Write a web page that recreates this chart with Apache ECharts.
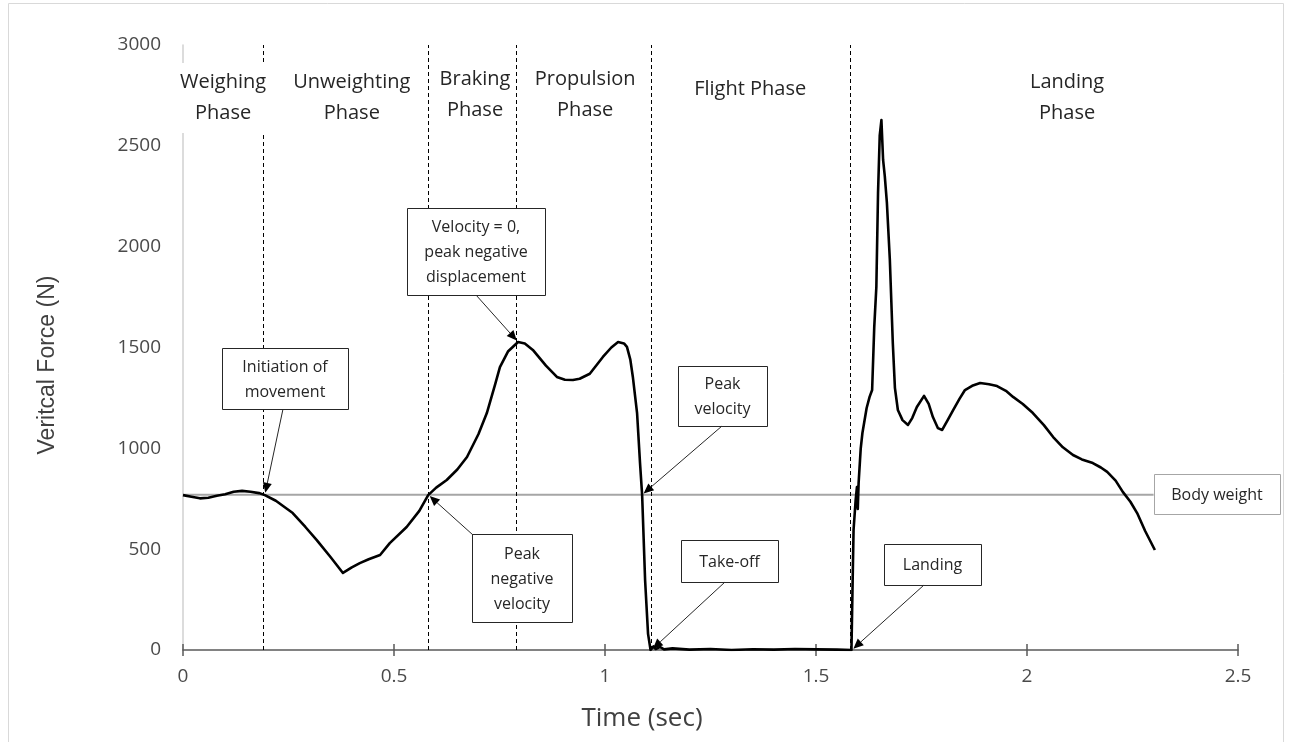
<!DOCTYPE html>
<html><head><meta charset="utf-8">
<script src="https://cdn.jsdelivr.net/npm/echarts@6/dist/echarts.min.js"></script>
<style>html,body{margin:0;padding:0;background:#fff}#c{width:1291px;height:742px}</style>
</head><body><div id="c"></div>
<script>
// ---- data ----
const time = [0,0.02,0.04,0.06,0.08,0.1,0.12,0.14,0.16,0.18,0.194,0.22,0.26,0.29,0.317,0.35,0.379,0.4,0.419,0.44,0.467,0.49,0.53,0.56,0.581,0.6,0.625,0.65,0.673,0.7,0.72,0.74,0.751,0.77,0.794,0.81,0.829,0.86,0.886,0.905,0.924,0.94,0.964,0.995,1.015,1.031,1.045,1.052,1.06,1.066,1.076,1.083,1.088,1.095,1.102,1.108,1.115,1.12,1.13,1.14,1.16,1.2,1.25,1.3,1.35,1.4,1.45,1.5,1.55,1.584,1.586,1.587,1.589,1.594,1.597,1.599,1.601,1.606,1.61,1.62,1.627,1.633,1.638,1.643,1.647,1.651,1.655,1.659,1.663,1.668,1.675,1.682,1.687,1.694,1.705,1.718,1.728,1.739,1.756,1.767,1.777,1.789,1.799,1.812,1.825,1.84,1.853,1.87,1.889,1.91,1.929,1.95,1.967,1.99,2.014,2.04,2.062,2.085,2.109,2.13,2.156,2.175,2.19,2.21,2.227,2.245,2.261,2.28,2.303];
const force = [768,760,752,755,765,772,785,789,785,778,768,740,679,610,545,460,382,410,431,450,471,530,610,690,768,805,843,895,957,1070,1175,1320,1403,1480,1527,1520,1488,1410,1354,1340,1339,1345,1370,1453,1500,1527,1520,1503,1440,1354,1175,927,768,347,80,0,18,5,15,3,8,2,5,0,4,2,5,3,2,0,0,362,595,744,808,700,830,1000,1076,1200,1255,1289,1600,1800,2266,2550,2628,2430,2350,2217,1934,1522,1300,1190,1140,1116,1150,1205,1260,1220,1155,1100,1091,1140,1190,1245,1289,1310,1324,1318,1309,1285,1255,1220,1175,1115,1056,1005,967,945,927,905,883,840,784,735,679,590,496];
const bodyWeight = 770;
const bodyWeightEnd = 2.3;
const phaseBoundaries = [0.194, 0.581, 0.794, 1.11, 1.585];
const phaseNames = ['Weighing\nPhase','Unweighting\nPhase','Braking\nPhase','Propulsion\nPhase','Flight Phase','Landing\nPhase'];
const phaseCenters = [0.095, 0.40, 0.692, 0.953, 1.344, 2.095];
const eventNames = ['Initiation of\nmovement','Velocity = 0,\npeak negative\ndisplacement','Peak\nnegative\nvelocity','Peak\nvelocity','Take-off','Landing'];
const eventTimes = [0.194, 0.794, 0.581, 1.088, 1.11, 1.585];
const eventForces = [770, 1527, 770, 770, 0, 0];
const xTicks = [0, 0.5, 1, 1.5, 2, 2.5];
const yTicks = [0, 500, 1000, 1500, 2000, 2500, 3000];

// ---- layout (pixels) ----
const phaseY = [98, 98, 95, 95, 89, 98];
const boxes = [
  {r:[222,348,126,61], from:[283,409]},
  {r:[407,208,138,87], from:[476,295]},
  {r:[472,534,100,88], from:[473,535]},
  {r:[678,366,89,60],  from:[722,426]},
  {r:[681,540,97,42],  from:[725,582]},
  {r:[884,544,97,41],  from:[924,585]}
];

const chart = echarts.init(document.getElementById('c'), null, {renderer:'canvas'});
const tickFont = {fontFamily:'Open Sans', fontSize:19, color:'#4a4a4a'};
chart.setOption({
  animation:false,
  grid:{left:183, right:53, top:45, bottom:92},
  xAxis:[{
    type:'value', min:xTicks[0], max:xTicks[xTicks.length-1], interval:0.5,
    axisLine:{show:true, lineStyle:{color:'#595959', width:1.5}},
    axisTick:{show:true, inside:false, length:6, lineStyle:{color:'#595959', width:1.5}},
    axisLabel:Object.assign({margin:17, formatter:v=>String(v)}, tickFont),
    splitLine:{show:false}
  },{
    type:'value', min:xTicks[0], max:xTicks[xTicks.length-1], interval:0.5, position:'bottom', offset:0,
    axisLine:{show:false},
    axisTick:{show:true, inside:true, length:6, lineStyle:{color:'#595959', width:1.5}},
    axisLabel:{show:false}, splitLine:{show:false}
  }],
  yAxis:{
    type:'value', min:yTicks[0], max:yTicks[yTicks.length-1], interval:500,
    axisLine:{show:true, lineStyle:{color:'#d0d0d0', width:1.5}},
    axisTick:{show:false},
    axisLabel:Object.assign({margin:22, formatter:v=>String(v)}, tickFont),
    splitLine:{show:false}
  },
  series:[
    {type:'line', name:'bw', data:[[0,bodyWeight],[bodyWeightEnd,bodyWeight]], showSymbol:false, symbol:'none',
     lineStyle:{color:'#a6a6a6', width:2}, z:2, silent:true},
    {type:'line', name:'phases', data:[], showSymbol:false,
     markLine:{silent:true, symbol:['none','none'], label:{show:false},
       lineStyle:{color:'#000', width:1, type:[4,3]},
       data:phaseBoundaries.map(x=>({xAxis:x}))}, z:1},
    {type:'line', name:'force', data:time.map((t,i)=>[t,force[i]]), showSymbol:false, symbol:'none',
     lineStyle:{color:'#000', width:2.6, join:'round'}, z:3, silent:true}
  ]
});

const g = [];
// outer chart border
g.push({type:'rect', shape:{x:8.5,y:3.5,width:1275,height:760}, style:{fill:null, stroke:'#d9d9d9', lineWidth:1}, z:0, silent:true});
// phase labels
phaseNames.forEach((n,i)=>{
  const px = chart.convertToPixel({xAxisIndex:0}, phaseCenters[i]);
  g.push({type:'text', z:50, style:{text:n, x:px, y:phaseY[i], align:'center', verticalAlign:'middle',
    fontFamily:'Open Sans', fontSize:20, lineHeight:31, fill:'#262626', backgroundColor:'#fff', padding:[4,1]}});
});
// annotation boxes + arrows
boxes.forEach((b,i)=>{
  const [x,y,w,h] = b.r;
  g.push({type:'rect', z:60, shape:{x:x+0.5,y:y+0.5,width:w,height:h}, style:{fill:'#fff', stroke:'#262626', lineWidth:1}});
  g.push({type:'text', z:61, style:{text:eventNames[i], x:x+w/2, y:y+h/2+1, align:'center', verticalAlign:'middle',
    fontFamily:'Open Sans', fontSize:16, lineHeight:25, fill:'#262626'}});
  const tip = chart.convertToPixel({xAxisIndex:0, yAxisIndex:0}, [eventTimes[i], eventForces[i]]);
  const [sx,sy] = b.from;
  let dx = tip[0]-sx, dy = tip[1]-sy; const L = Math.hypot(dx,dy); dx/=L; dy/=L;
  const tx = tip[0]-dx*2, ty = tip[1]-dy*2;
  const hl = 10, hw = 4.5;
  const bx = tx-dx*hl, by = ty-dy*hl;
  g.push({type:'line', z:62, shape:{x1:sx,y1:sy,x2:bx,y2:by}, style:{stroke:'#262626', lineWidth:1}});
  g.push({type:'polygon', z:62, shape:{points:[[tx,ty],[bx-dy*hw,by+dx*hw],[bx+dy*hw,by-dx*hw]]}, style:{fill:'#000'}});
});
// body weight label box
g.push({type:'rect', z:60, shape:{x:1154.5,y:474.5,width:126,height:40}, style:{fill:'#fff', stroke:'#a6a6a6', lineWidth:1}});
g.push({type:'text', z:61, style:{text:'Body weight', x:1217, y:495, align:'center', verticalAlign:'middle',
  fontFamily:'Open Sans', fontSize:16, fill:'#262626'}});
// axis titles
g.push({type:'text', z:40, x:48, y:365, rotation:Math.PI/2, style:{text:'Veritcal Force (N)', x:0, y:0, align:'center', verticalAlign:'middle',
  fontFamily:'Liberation Sans', fontSize:23, fill:'#404040'}});
g.push({type:'text', z:40, style:{text:'Time (sec)', x:642, y:719, align:'center', verticalAlign:'middle',
  fontFamily:'Open Sans', fontSize:26, fill:'#404040'}});
chart.setOption({graphic:g});
</script></body></html>
